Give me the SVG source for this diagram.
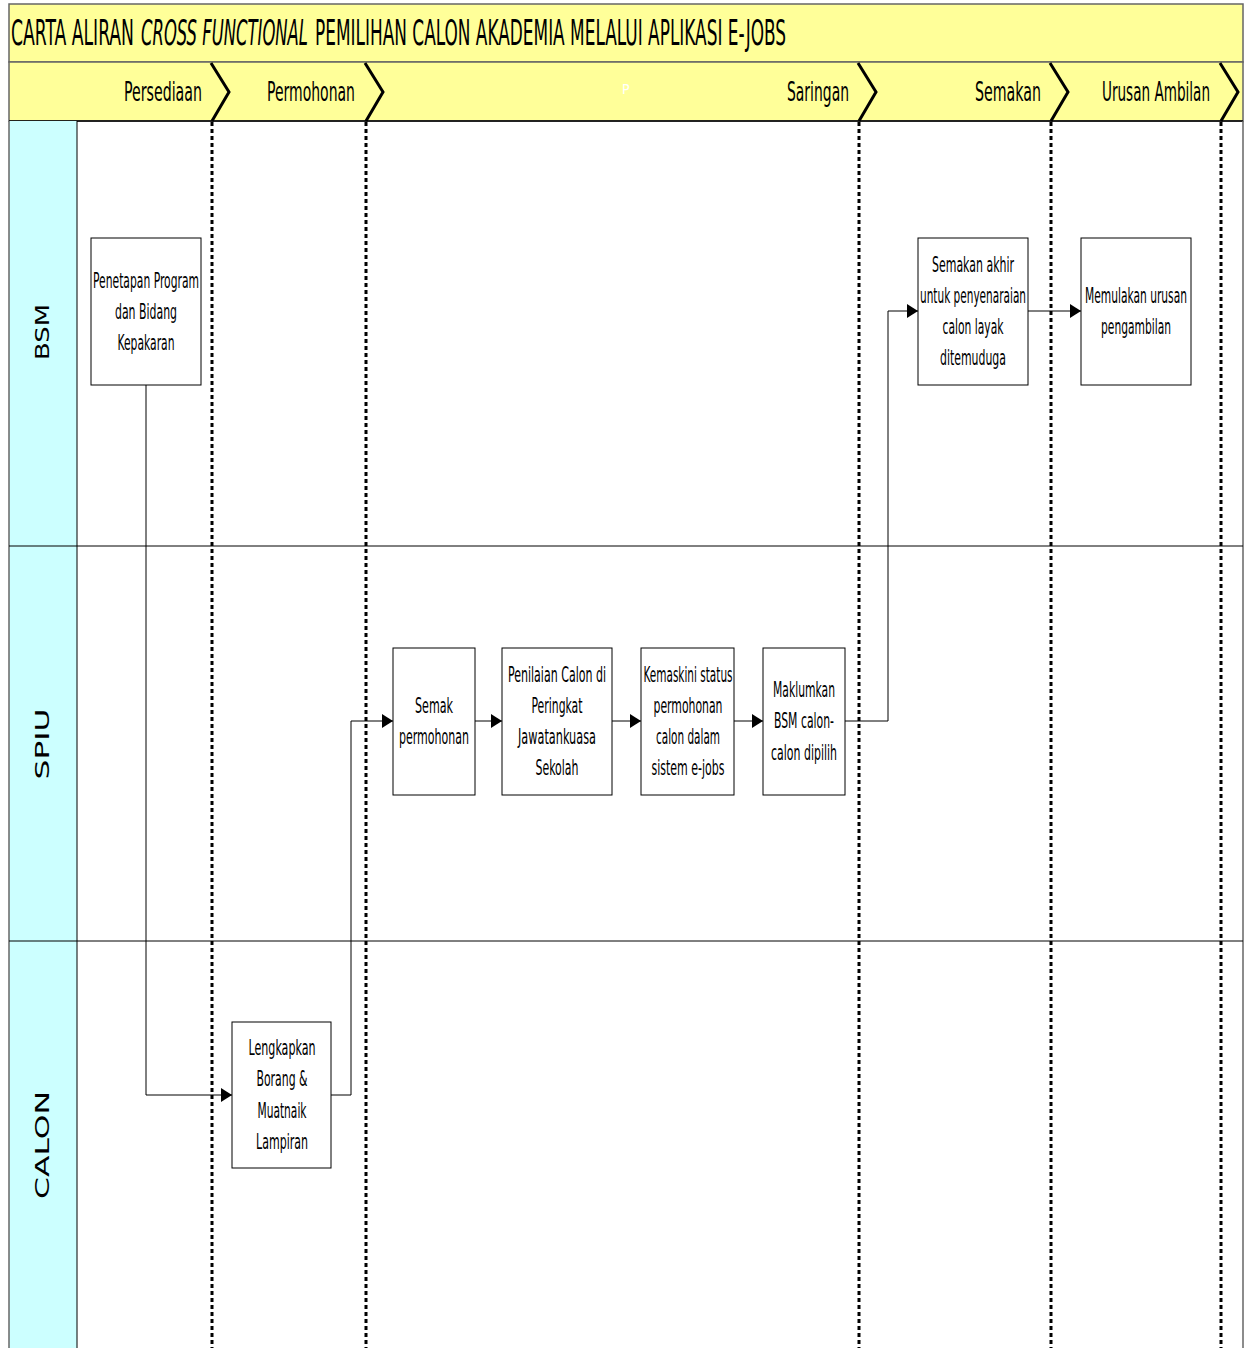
<svg xmlns="http://www.w3.org/2000/svg" width="1249" height="1348" viewBox="0 0 1249 1348">
<defs>
<style>
.t{font-family:"DejaVu Sans Condensed","DejaVu Sans",sans-serif;font-stretch:condensed;fill:#000;}
.nt{font-size:21px;text-anchor:middle;}
.ph{font-size:27px;}
.ttl{font-size:36px;}
.lane{font-family:"DejaVu Sans","Liberation Sans",sans-serif;font-size:19px;text-anchor:middle;fill:#000;}
.box{fill:#fff;stroke:#000;stroke-width:1;}
.conn{fill:none;stroke:#000;stroke-width:1;}
.sep{stroke:#000;stroke-width:3;stroke-dasharray:4 3;}
.chev{fill:none;stroke:#000;stroke-width:3;}
</style>
<marker id="ah" markerWidth="12" markerHeight="14" refX="11" refY="7" orient="auto" markerUnits="userSpaceOnUse">
<path d="M0,0 L11,7 L0,14 Z" fill="#000"/>
</marker>
</defs>
<rect x="0" y="0" width="1249" height="1348" fill="#fff"/>
<!-- title band -->
<rect x="9" y="4" width="1234" height="58" fill="#FFFF99" stroke="#666" stroke-width="1.5"/>
<text class="t ttl" x="11" y="45" textLength="123" lengthAdjust="spacingAndGlyphs">CARTA ALIRAN</text>
<text class="t ttl" x="141" y="45" font-style="italic" textLength="167" lengthAdjust="spacingAndGlyphs">CROSS FUNCTIONAL</text>
<text class="t ttl" x="315" y="45" textLength="471" lengthAdjust="spacingAndGlyphs">PEMILIHAN CALON AKADEMIA MELALUI APLIKASI E-JOBS</text>
<!-- phase band -->
<rect x="9" y="62" width="1234" height="59" fill="#FFFF99" stroke="#666" stroke-width="1.5"/>
<line x1="9" y1="121" x2="1243" y2="121" stroke="#000" stroke-width="1.5"/>
<g id="phases">
<text class="t ph" x="124" y="101" textLength="78" lengthAdjust="spacingAndGlyphs">Persediaan</text>
<text class="t ph" x="267" y="101" textLength="88" lengthAdjust="spacingAndGlyphs">Permohonan</text>
<text class="t" x="622" y="94" font-size="14" style="fill:#fff">P</text>
<text class="t ph" x="787" y="101" textLength="62" lengthAdjust="spacingAndGlyphs">Saringan</text>
<text class="t ph" x="975" y="101" textLength="66" lengthAdjust="spacingAndGlyphs">Semakan</text>
<text class="t ph" x="1102" y="101" textLength="108" lengthAdjust="spacingAndGlyphs">Urusan Ambilan</text>
<polyline class="chev" points="211,63 229,92 212,121"/>
<polyline class="chev" points="365,63 383,92 366,121"/>
<polyline class="chev" points="858,63 876,92 859,121"/>
<polyline class="chev" points="1050,63 1068,92 1051,121"/>
<polyline class="chev" points="1220,63 1238,92 1221,121"/>
</g>
<!-- lanes -->
<g id="lanes">
<rect x="9" y="121" width="68" height="1227" fill="#CCFFFF"/>
<line x1="77" y1="121" x2="77" y2="1348" stroke="#000" stroke-width="1"/>
<line x1="9" y1="121" x2="9" y2="1348" stroke="#666" stroke-width="1.5"/>
<line x1="1243" y1="121" x2="1243" y2="1348" stroke="#666" stroke-width="1.5"/>
<line x1="9" y1="546" x2="1243" y2="546" stroke="#000" stroke-width="1"/>
<line x1="9" y1="941" x2="1243" y2="941" stroke="#000" stroke-width="1"/>
<text class="lane" transform="translate(49,332) rotate(-90)" textLength="56" lengthAdjust="spacingAndGlyphs">BSM</text>
<text class="lane" transform="translate(49,744) rotate(-90)" textLength="71" lengthAdjust="spacingAndGlyphs">SPIU</text>
<text class="lane" transform="translate(49,1145) rotate(-90)" textLength="108" lengthAdjust="spacingAndGlyphs">CALON</text>
</g>
<!-- phase separators -->
<g id="separators">
<line class="sep" x1="212" y1="122" x2="212" y2="1348"/>
<line class="sep" x1="366" y1="122" x2="366" y2="1348"/>
<line class="sep" x1="859" y1="122" x2="859" y2="1348"/>
<line class="sep" x1="1051" y1="122" x2="1051" y2="1348"/>
<line class="sep" x1="1221" y1="122" x2="1221" y2="1348"/>
</g>
<!-- connectors -->
<g id="connectors">
<polyline class="conn" points="146,385 146,1095 232,1095" marker-end="url(#ah)"/>
<polyline class="conn" points="331,1095 351,1095 351,721 393,721" marker-end="url(#ah)"/>
<line class="conn" x1="475" y1="721" x2="502" y2="721" marker-end="url(#ah)"/>
<line class="conn" x1="612" y1="721" x2="641" y2="721" marker-end="url(#ah)"/>
<line class="conn" x1="734" y1="721" x2="763" y2="721" marker-end="url(#ah)"/>
<polyline class="conn" points="845,721 888,721 888,311 918,311" marker-end="url(#ah)"/>
<line class="conn" x1="1028" y1="311" x2="1081" y2="311" marker-end="url(#ah)"/>
</g>
<!-- nodes -->
<g id="n-penetapan">
<rect class="box" x="91" y="238" width="110" height="147"/>
<text class="t nt" x="146" y="288" textLength="106" lengthAdjust="spacingAndGlyphs">Penetapan Program</text>
<text class="t nt" x="146" y="319" textLength="62" lengthAdjust="spacingAndGlyphs">dan Bidang</text>
<text class="t nt" x="146" y="350" textLength="57" lengthAdjust="spacingAndGlyphs">Kepakaran</text>
</g>
<g id="n-semakan-akhir">
<rect class="box" x="918" y="238" width="110" height="147"/>
<text class="t nt" x="973" y="272" textLength="82" lengthAdjust="spacingAndGlyphs">Semakan akhir</text>
<text class="t nt" x="973" y="303" textLength="106" lengthAdjust="spacingAndGlyphs">untuk penyenaraian</text>
<text class="t nt" x="973" y="334" textLength="61" lengthAdjust="spacingAndGlyphs">calon layak</text>
<text class="t nt" x="973" y="365" textLength="66" lengthAdjust="spacingAndGlyphs">ditemuduga</text>
</g>
<g id="n-memulakan">
<rect class="box" x="1081" y="238" width="110" height="147"/>
<text class="t nt" x="1136" y="303" textLength="102" lengthAdjust="spacingAndGlyphs">Memulakan urusan</text>
<text class="t nt" x="1136" y="334" textLength="70" lengthAdjust="spacingAndGlyphs">pengambilan</text>
</g>
<g id="n-semak">
<rect class="box" x="393" y="648" width="82" height="147"/>
<text class="t nt" x="434" y="713" textLength="38" lengthAdjust="spacingAndGlyphs">Semak</text>
<text class="t nt" x="434" y="744" textLength="70" lengthAdjust="spacingAndGlyphs">permohonan</text>
</g>
<g id="n-penilaian">
<rect class="box" x="502" y="648" width="110" height="147"/>
<text class="t nt" x="557" y="682" textLength="98" lengthAdjust="spacingAndGlyphs">Penilaian Calon di</text>
<text class="t nt" x="557" y="713" textLength="51" lengthAdjust="spacingAndGlyphs">Peringkat</text>
<text class="t nt" x="557" y="744" textLength="78" lengthAdjust="spacingAndGlyphs">Jawatankuasa</text>
<text class="t nt" x="557" y="775" textLength="43" lengthAdjust="spacingAndGlyphs">Sekolah</text>
</g>
<g id="n-kemaskini">
<rect class="box" x="641" y="648" width="93" height="147"/>
<text class="t nt" x="688" y="682" textLength="89" lengthAdjust="spacingAndGlyphs">Kemaskini status</text>
<text class="t nt" x="688" y="713" textLength="69" lengthAdjust="spacingAndGlyphs">permohonan</text>
<text class="t nt" x="688" y="744" textLength="64" lengthAdjust="spacingAndGlyphs">calon dalam</text>
<text class="t nt" x="688" y="775" textLength="73" lengthAdjust="spacingAndGlyphs">sistem e-jobs</text>
</g>
<g id="n-maklumkan">
<rect class="box" x="763" y="648" width="82" height="147"/>
<text class="t nt" x="804" y="697" textLength="62" lengthAdjust="spacingAndGlyphs">Maklumkan</text>
<text class="t nt" x="804" y="728" textLength="60" lengthAdjust="spacingAndGlyphs">BSM calon-</text>
<text class="t nt" x="804" y="760" textLength="66" lengthAdjust="spacingAndGlyphs">calon dipilih</text>
</g>
<g id="n-lengkapkan">
<rect class="box" x="232" y="1022" width="99" height="146"/>
<text class="t nt" x="282" y="1055" textLength="67" lengthAdjust="spacingAndGlyphs">Lengkapkan</text>
<text class="t nt" x="282" y="1086" textLength="51" lengthAdjust="spacingAndGlyphs">Borang &amp;</text>
<text class="t nt" x="282" y="1118" textLength="49" lengthAdjust="spacingAndGlyphs">Muatnaik</text>
<text class="t nt" x="282" y="1149" textLength="52" lengthAdjust="spacingAndGlyphs">Lampiran</text>
</g>
</svg>
